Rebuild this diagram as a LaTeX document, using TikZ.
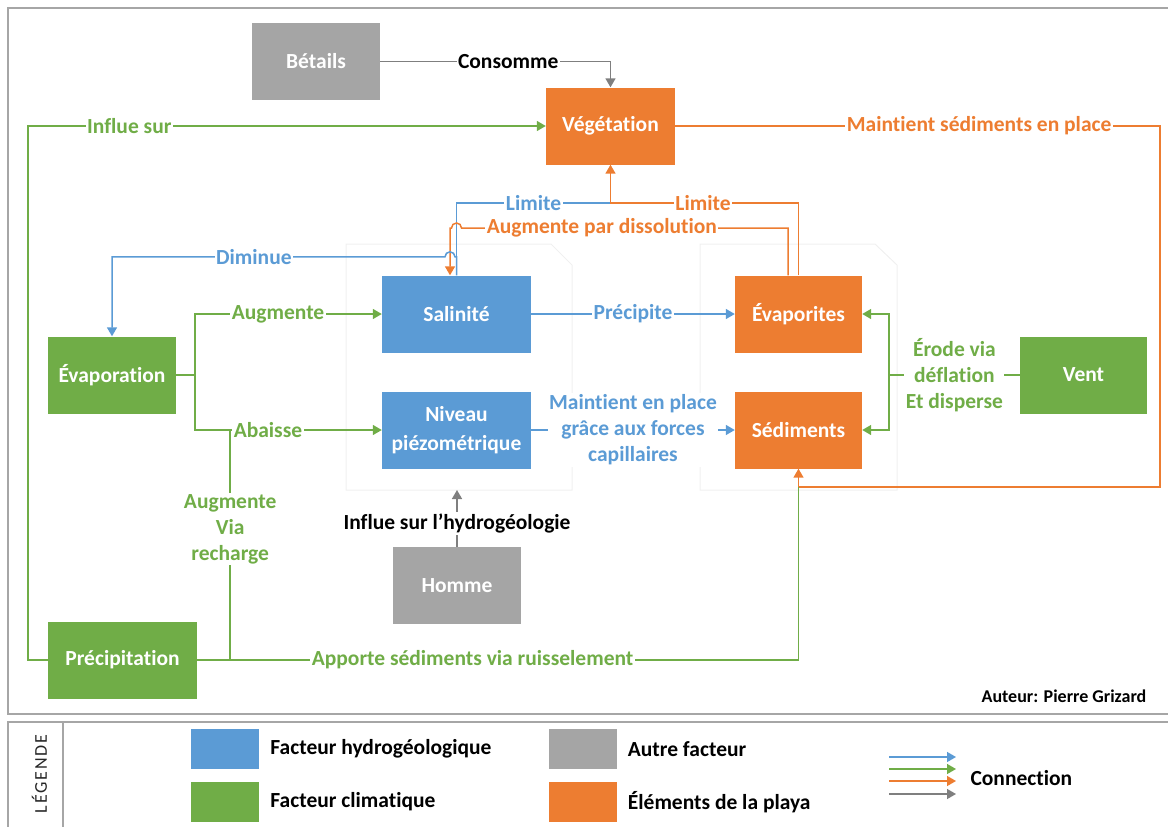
\documentclass[tikz,border=0pt]{standalone}
\usepackage{fontspec}
\setmainfont{Carlito}[Ligatures=NoCommon]
\newfontfamily\legfont[LetterSpace=10]{Carlito}
\usepackage{tikz}
\usetikzlibrary{positioning,arrows.meta}

\definecolor{hydro}{HTML}{5B9BD5}
\definecolor{clim}{HTML}{70AD47}
\definecolor{playa}{HTML}{ED7D31}
\definecolor{autre}{HTML}{A5A5A5}
\definecolor{grisfonce}{HTML}{7F7F7F}

\tikzset{
  facteur/.style={rectangle,minimum height=77pt,text=white,align=center,inner sep=2pt,
    font=\fontsize{21.5}{29}\selectfont\bfseries},
  lien/.style={line width=1.5pt,-{Triangle[length=9pt,width=10pt]}},
  trait/.style={line width=1.5pt},
  etiq/.style={fill=white,inner sep=1.5pt,align=center,font=\fontsize{21.5}{26}\selectfont\bfseries},
  cadre/.style={draw=gray!70,line width=1.8pt},
  panneau/.style={draw=gray!12,line width=1pt}
}

\begin{document}
\begin{tikzpicture}[x=1pt,y=-1pt]
\useasboundingbox (0,0) rectangle (1168,827);
\draw[cadre] (8,8) rectangle (1180,714);
\draw[cadre] (8,722) rectangle (1180,840);
\draw[cadre] (63,722) -- (63,840);

% panneaux
\draw[panneau] (346,244) -- (551,244) -- (572,265) -- (572,490) -- (346,490) -- cycle;
\draw[panneau] (700,244) -- (875,244) -- (897,265) -- (897,490) -- (700,490) -- cycle;
\coordinate (panbas) at (457,490);

% facteurs
\node[facteur,fill=autre,minimum width=128pt] (betail) at (316,61.5) {Bétails};
\node[facteur,fill=playa,minimum width=129pt] (veget) at (610.5,126) {Végétation};
\node[facteur,fill=hydro,minimum width=149pt] (salin) at (456.5,314) {Salinité};
\node[facteur,fill=hydro,minimum width=149pt] (niveau) at (456.5,430) {Niveau\\piézométrique};
\node[facteur,fill=playa,minimum width=127pt] (evapo) at (798.5,314) {Évaporites};
\node[facteur,fill=playa,minimum width=127pt] (sedim) at (798.5,430) {Sédiments};
\node[facteur,fill=clim,minimum width=128pt] (evapor) at (112,375) {Évaporation};
\node[facteur,fill=clim,minimum width=149pt] (precip) at (122.5,660) {Précipitation};
\node[facteur,fill=clim,minimum width=127pt] (vent) at (1083.5,375) {Vent};
\node[facteur,fill=autre,minimum width=128pt] (homme) at (457,585.5) {Homme};

\coordinate (jonction) at (610.5,203);
\coordinate (sedbas) at (798.5,487);
\coordinate (bras) at (889,375);
\coordinate (recharge) at ([xshift=33pt]precip.east);

% liens
\draw[lien,grisfonce] (betail.east) -| node[etiq,text=black,pos=0.278] {Consomme} (veget.north);
\draw[lien,clim] (precip.west) -- ++(-20,0) |- node[etiq,pos=0.598] {Influe sur} (veget.west);
\draw[lien,playa] (veget.east) -- node[etiq,pos=0.627] {Maintient sédiments en place} (1160,126)
  |- (sedbas) -- (sedim.south);
\draw[trait,hydro] (salin.north) |- node[etiq,pos=0.75] {Limite} (jonction);
\draw[lien,playa] (evapo.north) |- node[etiq,pos=0.754] {Limite} (jonction) -- (veget.south);
\draw[lien,playa] ([xshift=-10.5pt]evapo.north) |- node[etiq,pos=0.785] {Augmente par dissolution} (461.5,228)
  arc[start angle=0,end angle=180,radius=5pt] -- ++(-1.5,0) -- ([xshift=-6.5pt]salin.north);
\draw[lien,hydro] (salin.north) -- ++(0,-18.5) -- ++(-1.5,0) arc[start angle=0,end angle=180,radius=5pt]
  -| node[etiq,pos=0.287] {Diminue} (evapor.north);
\draw[lien,clim] (evapor.east) -- ++(19,0) |- node[etiq,pos=0.722] {Augmente} (salin.west);
\draw[lien,clim] (evapor.east) -- ++(19,0) |- node[etiq,pos=0.695] {Abaisse} (niveau.west);
\draw[lien,hydro] (salin.east) -- node[etiq] {Précipite} (evapo.west);
\draw[lien,hydro] (niveau.east) -- node[etiq] {Maintient en place\\grâce aux forces\\capillaires} (sedim.west);
\draw[trait,clim] (precip.east) -| node[etiq,pos=0.229] {Apporte sédiments via ruisselement} (sedbas);
\draw[trait,clim] (recharge) -- node[etiq,pos=0.57] {Augmente\\Via\\recharge} (recharge |- niveau.west);
\draw[trait,clim] (vent.west) -- node[etiq] {Érode via\\déflation\\Et disperse} (bras);
\draw[lien,clim] (bras) |- (evapo.east);
\draw[lien,clim] (bras) |- (sedim.east);
\draw[lien,grisfonce] (homme.north) -- node[etiq,text=black,pos=0.41] {Influe sur l’hydrogéologie} (panbas);

\node[font=\fontsize{18}{20}\selectfont\bfseries] (auteur) at (1064,696) {Auteur: Pierre Grizard};

% legende
\node[rotate=90,font=\legfont\fontsize{18}{18}\selectfont,text=black!85] (legende) at (39.5,774) {LÉGENDE};
\foreach \c/\x/\y/\txt in {hydro/225/749/Facteur hydrogéologique, clim/225/802/Facteur climatique,
    autre/582.5/749/Autre facteur, playa/582.5/802/Éléments de la playa} {
  \node[fill=\c,minimum width=68pt,minimum height=40pt] (leg-\c) at (\x,\y) {};
  \node[right=11pt of leg-\c,inner sep=0pt,font=\fontsize{21.5}{24}\selectfont\bfseries] {\txt};
}
\foreach \c/\y in {hydro/757,clim/769,playa/781,grisfonce/794}
  \draw[lien,\c] (889,\y) -- (956,\y);
\node[anchor=west,font=\fontsize{21.5}{24}\selectfont\bfseries] (connex) at (967,778) {Connection};
\end{tikzpicture}
\end{document}
